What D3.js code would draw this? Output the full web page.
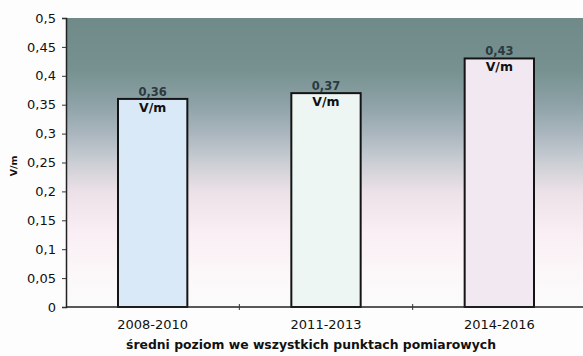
<!DOCTYPE html>
<html>
<head>
<meta charset="utf-8">
<script src="https://cdn.jsdelivr.net/npm/d3@7/dist/d3.min.js"></script>
<style>
  html, body { margin: 0; padding: 0; background: #fdfdfd; }
  svg { display: block; }
  text { font-family: "DejaVu Sans", Arial, sans-serif; }
</style>
</head>
<body>
<svg id="chart" width="583" height="356"></svg>
<script>
// Average field strength across all measurement points, by period
const categories = ["2008-2010", "2011-2013", "2014-2016"];
const values = [0.36, 0.37, 0.43];
const valueLabels = ["0,36", "0,37", "0,43"];
const barColors = ["#d9e9f8", "#eef6f4", "#f2e8f2"];
const yTicks = [0, 0.05, 0.1, 0.15, 0.2, 0.25, 0.3, 0.35, 0.4, 0.45, 0.5];
const yTickLabels = ["0", "0,05", "0,1", "0,15", "0,2", "0,25", "0,3", "0,35", "0,4", "0,45", "0,5"];
const unit = "V/m";
const xTitle = "średni poziom we wszystkich punktach pomiarowych";

const svg = d3.select("#chart");
const margin = { left: 66, right: -3, top: 18, bottom: 49 };
const W = 583, H = 356;
const x0 = margin.left, x1 = W - margin.right;
const yTop = margin.top, yBot = H - margin.bottom;

const x = d3.scaleBand().domain(categories).range([x0, x1]).paddingInner(0.6).paddingOuter(0.3);
const xb = d3.scaleBand().domain(categories).range([x0, x1]);
const y = d3.scaleLinear().domain([0, 0.5]).range([yBot, yTop]);

// plot background gradient
const defs = svg.append("defs");
const grad = defs.append("linearGradient").attr("id", "bg")
  .attr("x1", 0).attr("y1", 0).attr("x2", 0).attr("y2", 1);
[[0, "#6f8a89"], [0.18, "#76918f"], [0.3, "#8ea2a8"], [0.4, "#aab6be"],
 [0.5, "#cbced4"], [0.6, "#ebe1e7"], [0.75, "#f9eff4"], [0.9, "#fcf8f9"], [1, "#fbfbfb"]]
  .forEach(([o, c]) => grad.append("stop").attr("offset", o).attr("stop-color", c));

svg.append("rect").attr("x", x0).attr("y", yTop)
  .attr("width", x1 - x0).attr("height", yBot - yTop).attr("fill", "url(#bg)");

// bars
svg.selectAll("rect.bar").data(values).join("rect")
  .attr("class", "bar")
  .attr("x", (d, i) => x(categories[i]))
  .attr("y", d => y(d))
  .attr("width", x.bandwidth())
  .attr("height", d => y(0) - y(d))
  .attr("fill", (d, i) => barColors[i])
  .attr("stroke", "#141414").attr("stroke-width", 2);

// value labels
const lbl = svg.append("g");
values.forEach((v, i) => {
  const cx = x(categories[i]) + x.bandwidth() / 2;
  lbl.append("text").attr("x", cx).attr("y", y(v) - 3)
    .attr("text-anchor", "middle").attr("font-size", 11.5).attr("font-weight", "bold")
    .attr("fill", "#2a3a40").text(valueLabels[i]);
  lbl.append("text").attr("x", cx).attr("y", y(v) + 13)
    .attr("text-anchor", "middle").attr("font-size", 12.5).attr("font-weight", "bold")
    .attr("fill", "#111").text(unit);
});

// y axis
const yAxis = d3.axisLeft(y).tickValues(yTicks)
  .tickFormat((d, i) => yTickLabels[i]).tickSize(4).tickPadding(6);
const gy = svg.append("g").attr("transform", `translate(${x0},0)`).call(yAxis);
gy.select(".domain").attr("stroke", "#222").attr("stroke-width", 1.5);
gy.selectAll(".tick line").attr("stroke", "#333");
gy.selectAll(".tick text").attr("font-size", 13).attr("fill", "#111")
  .attr("font-family", '"DejaVu Sans", Arial, sans-serif');

// x axis
svg.append("line").attr("x1", x0).attr("x2", x1).attr("y1", yBot).attr("y2", yBot)
  .attr("stroke", "#222").attr("stroke-width", 1.5);
svg.selectAll("line.xt").data(categories.slice(1)).join("line")
  .attr("class", "xt")
  .attr("x1", d => xb(d)).attr("x2", d => xb(d))
  .attr("y1", yBot - 3).attr("y2", yBot + 3)
  .attr("stroke", "#333");
svg.selectAll("text.cat").data(categories).join("text")
  .attr("class", "cat")
  .attr("x", d => x(d) + x.bandwidth() / 2)
  .attr("y", yBot + 22)
  .attr("text-anchor", "middle").attr("font-size", 13).attr("fill", "#111")
  .text(d => d);

// axis titles
svg.append("text").attr("x", 311).attr("y", 349)
  .attr("text-anchor", "middle").attr("font-size", 12.5).attr("font-weight", "bold")
  .attr("textLength", 370).attr("lengthAdjust", "spacingAndGlyphs")
  .attr("fill", "#111").text(xTitle);
svg.append("text").attr("transform", `translate(17,166) rotate(-90)`)
  .attr("text-anchor", "middle").attr("font-size", 9.5).attr("font-weight", "bold")
  .attr("fill", "#111").text(unit);
</script>
</body>
</html>
